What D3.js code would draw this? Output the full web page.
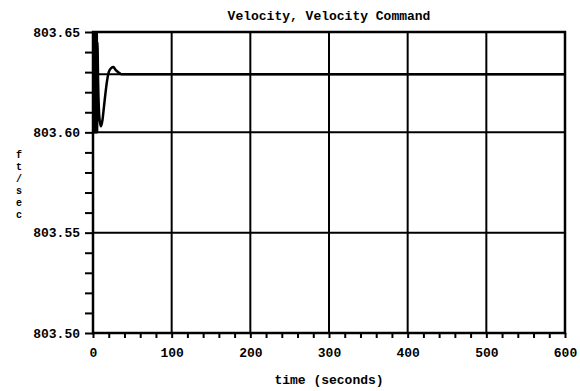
<!DOCTYPE html>
<html>
<head>
<meta charset="utf-8">
<script src="https://cdn.jsdelivr.net/npm/d3@7"></script>
<style>
  body { margin: 0; background: #fff; }
  text { font-family: "Liberation Mono", "DejaVu Sans Mono", monospace; font-weight: bold; fill: #000; }
</style>
</head>
<body>
<script>
// data
const timeSec = [0, 0.4, 0.8, 1.2, 1.6, 2.0, 2.4, 2.8, 3.2, 3.6, 4.0, 4.4, 4.8, 5.2, 5.6,
    6.5, 8, 10, 12, 14, 16, 18, 20, 23, 26, 29, 32, 36, 60, 200, 400, 600];
const velocity = [803.65, 803.60, 803.65, 803.60, 803.65, 803.60, 803.65, 803.60, 803.65, 803.60, 803.65, 803.60, 803.65, 803.60, 803.645,
    803.625, 803.608, 803.603, 803.606, 803.613, 803.620, 803.626, 803.630, 803.632, 803.6325, 803.631, 803.630, 803.629, 803.629, 803.629, 803.629, 803.629];
const cmdTime = [0, 600];
const velocityCmd = [803.629, 803.629];
const xMajor = [0, 100, 200, 300, 400, 500, 600];
const yMajor = [803.50, 803.55, 803.60, 803.65];

const W = 580, H = 391;
const margin = {top: 32, right: 15, bottom: 58, left: 93};

const svg = d3.select("body").append("svg")
    .attr("width", W)
    .attr("height", H);

const x = d3.scaleLinear().domain([0, 600]).range([margin.left, W - margin.right]);
const y = d3.scaleLinear().domain([803.50, 803.65]).range([H - margin.bottom, margin.top]);

// grid lines at the major ticks
svg.append("g").selectAll("line.vg")
    .data(xMajor)
    .enter().append("line")
    .attr("x1", d => x(d)).attr("x2", d => x(d))
    .attr("y1", y(803.50)).attr("y2", y(803.65))
    .attr("stroke", "#000").attr("stroke-width", 2);
svg.append("g").selectAll("line.hg")
    .data(yMajor)
    .enter().append("line")
    .attr("x1", x(0)).attr("x2", x(600))
    .attr("y1", d => y(d)).attr("y2", d => y(d))
    .attr("stroke", "#000").attr("stroke-width", 2);

// minor ticks (outward)
const xMinor = d3.range(0, 601, 20);
const yMinor = d3.range(0, 16).map(i => 803.50 + i * 0.01);

svg.append("g")
    .attr("transform", `translate(0,${y(803.50)})`)
    .call(d3.axisBottom(x).tickValues(xMinor).tickSize(5).tickFormat(""))
    .call(g => g.select(".domain").remove())
    .call(g => g.selectAll("line").attr("stroke-width", 2));
svg.append("g")
    .attr("transform", `translate(${x(0)},0)`)
    .call(d3.axisLeft(y).tickValues(yMinor).tickSize(8).tickFormat(""))
    .call(g => g.select(".domain").remove())
    .call(g => g.selectAll("line").attr("stroke-width", 2));

// x axis labels
svg.append("g")
    .attr("transform", `translate(0,${y(803.50)})`)
    .call(d3.axisBottom(x).tickValues(xMajor).tickSize(0).tickPadding(15).tickFormat(d3.format("d")))
    .call(g => g.select(".domain").remove())
    .call(g => g.selectAll("text").style("font-size", "13px").style("font-family", null));

// y axis labels
svg.append("g")
    .attr("transform", `translate(${x(0)},0)`)
    .call(d3.axisLeft(y).tickValues(yMajor).tickSize(0).tickPadding(13).tickFormat(d3.format(".2f")))
    .call(g => g.select(".domain").remove())
    .call(g => g.selectAll("text").style("font-size", "13px").style("font-family", null));

// frame
svg.append("rect")
    .attr("x", x(0)).attr("y", y(803.65))
    .attr("width", x(600) - x(0)).attr("height", y(803.50) - y(803.65))
    .attr("fill", "none").attr("stroke", "#000").attr("stroke-width", 2.5);

svg.append("clipPath").attr("id", "clip")
    .append("rect")
    .attr("x", x(0)).attr("y", y(803.65) - 1)
    .attr("width", x(600) - x(0)).attr("height", y(803.50) - y(803.65) + 2);

const line = d3.line()
    .x(d => x(d[0]))
    .y(d => y(d[1]));

svg.append("path")
    .datum(cmdTime.map((t, i) => [t, velocityCmd[i]]))
    .attr("d", line)
    .attr("clip-path", "url(#clip)")
    .attr("fill", "none").attr("stroke", "#000").attr("stroke-width", 2);

svg.append("path")
    .datum(timeSec.map((t, i) => [t, velocity[i]]))
    .attr("d", line.curve(d3.curveMonotoneX))
    .attr("clip-path", "url(#clip)")
    .attr("fill", "none").attr("stroke", "#000").attr("stroke-width", 2.5);

// title and axis titles
svg.append("text")
    .attr("x", (x(0) + x(600)) / 2).attr("y", 20)
    .attr("text-anchor", "middle")
    .style("font-size", "13px")
    .text("Velocity, Velocity Command");

svg.append("text")
    .attr("x", (x(0) + x(600)) / 2).attr("y", 384)
    .attr("text-anchor", "middle")
    .style("font-size", "13px")
    .text("time (seconds)");

// y label stacked letters
svg.append("g").selectAll("text")
    .data("ft/sec".split(""))
    .enter().append("text")
    .attr("x", 19)
    .attr("y", (d, i) => 158 + i * 12)
    .attr("text-anchor", "middle")
    .style("font-size", "10px")
    .text(d => d);
</script>
</body>
</html>
